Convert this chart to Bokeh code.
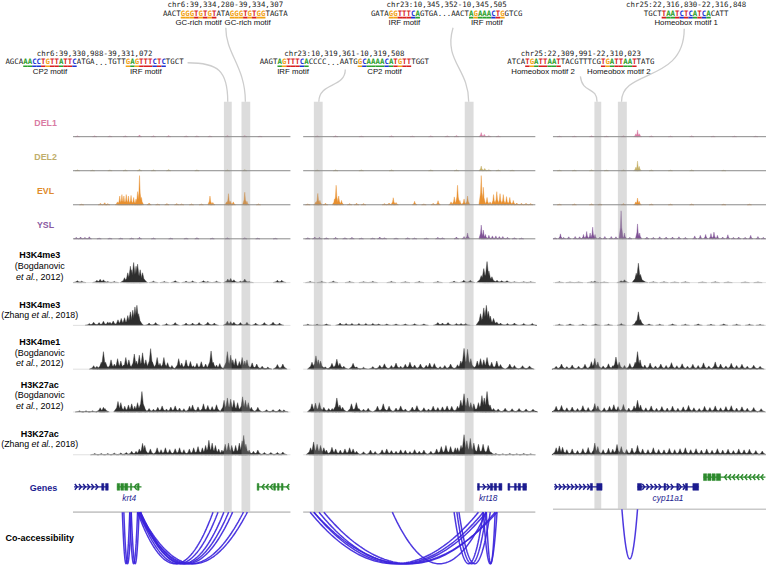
import numpy as np
from bokeh.plotting import figure
from bokeh.models import Range1d
from bokeh.embed import file_html
from bokeh.resources import INLINE
from bokeh.core.properties import value

# ======================= DATA =======================
PANEL_NAMES = ["chr6 krt4 locus", "chr23 krt18 locus", "chr25 cyp11a1 locus"]

TRACK_NAMES = ["DEL1", "DEL2", "EVL", "YSL"]
HIST_TITLES = ["H3K4me3", "H3K4me3", "H3K4me1", "H3K27ac", "H3K27ac"]
HIST_AUTHORS = ["Bogdanovic", "Zhang", "Bogdanovic", "Bogdanovic", "Zhang"]
HIST_YEARS = ["2012", "2018", "2012", "2012", "2018"]

# signal peaks (position % of window, signal 0-10) per track, per panel
DEL1_P1 = [(2,0.3),(10,0.3),(17,0.3),(24,0.3),(30.6,0.6),(37,0.3),(44,0.4),(52,0.3),(57,0.3),(63,0.3),(71,0.4),(79,0.4),(86,0.2)]
DEL1_P2 = [(6,0.3),(14,0.3),(25,0.2),(38,0.3),(47,0.2),(55,0.3),(62,0.3),(66,0.4),(76.7,1.4),(78,0.8),(80,0.4),(84,0.3)]
DEL1_P3 = [(3,0.2),(10,0.2),(18,0.3),(25,0.2),(33,0.3),(38.8,1),(39.6,2.3),(40.5,1),(46,0.3),(55,0.2),(65,0.3),(75,0.2),(85,0.2),(95,0.2)]
DEL2_P1 = [(2,0.3),(9,0.2),(17,0.3),(24,0.3),(30.6,0.5),(37,0.3),(44,0.4),(57,0.3),(71,0.3),(79,0.4)]
DEL2_P2 = [(6,0.3),(14,0.3),(25,0.3),(38,0.3),(55,0.3),(66,0.3),(76.7,1.6),(78.2,0.8),(80,0.4),(84,0.3),(90,0.2)]
DEL2_P3 = [(3,0.2),(10,0.2),(18,0.3),(25,0.2),(33,0.3),(38.8,1.2),(39.6,3.3),(40.4,1.5),(46,0.3),(55,0.2),(65,0.3),(80,0.2)]
EVL_P1 = [(4,0.2),(12.6,0.5),(14.6,0.7),(16,0.4),(20.4,1),(21.5,3),(22.5,3.5),(23.4,3),(24.5,3.5),(25.5,3),(26.7,3.2),(27.9,2.5),(29,2),(29.7,4.5),(30.6,10),(31.5,2.5),(35,0.6),(39,0.3),(43.2,0.4),(47.7,0.4),(50,0.3),(54.5,0.3),(59,0.3),(63,3),(64.3,0.8),(70.6,1),(71.5,3.8),(72.5,1.2),(73.7,1),(79,4.3),(80,1.2),(85.3,0.3)]
EVL_P2 = [(2,0.3),(5.5,1),(6.3,3.9),(7.2,1.5),(9.6,0.5),(13.5,2),(14.2,6.7),(15.3,3),(16.5,1.5),(20,0.4),(23,0.5),(26,0.4),(35,0.4),(37,0.6),(38.8,2.4),(40,0.8),(48,1.2),(52,0.3),(56,0.5),(58.1,1.4),(63.7,1),(65.1,2.7),(66.5,6.7),(67.5,1.5),(69.3,2),(70.8,3),(76.7,10),(77.6,6),(79.2,2.5),(80.5,1),(82,3.5),(83.4,4.5),(84.8,3.8),(86.2,3.5),(87.6,2.8),(89,2.5),(90.5,1.5),(92,0.6),(94,0.5),(96,0.5),(98,0.4)]
EVL_P3 = [(3,0.2),(10,0.3),(18,0.3),(22,0.3),(33,0.4),(38.8,1),(39.6,2.3),(40.4,1.2),(46,0.3),(55,0.2),(65,0.3),(80,0.2),(92,0.2)]
YSL_P1 = [(1.5,0.5),(3.5,0.6),(5.5,0.5),(7.5,0.7),(12,0.3),(17,0.3),(22,0.3),(27,0.3),(30.6,0.5),(37,0.3),(45,0.3),(52,0.3),(57,0.4),(64,0.3),(71,0.4),(79,0.4),(85,0.3),(93,0.2)]
YSL_P2 = [(2,0.4),(5,0.6),(7,0.5),(10,0.4),(14,0.5),(18,0.4),(21,0.5),(25,0.3),(30,0.3),(33,0.6),(35,0.4),(40,0.3),(45,0.4),(48,0.3),(53,0.3),(58,0.5),(60,0.4),(66,0.6),(69.3,0.8),(70.8,2),(76.7,4.7),(77.6,3),(78.5,1.5),(80,1.2),(81.5,1),(83,1),(84.5,0.8),(86,0.8),(88,0.5),(91,0.4),(94,0.3)]
YSL_P3 = [(1,0.4),(3.5,1.7),(5,0.5),(7.4,0.7),(10.4,0.8),(12.5,0.7),(14.3,1.5),(15.8,2.5),(17.4,2),(18.6,4),(19.7,1.5),(22,0.6),(24.3,0.8),(27.3,0.8),(29.5,0.7),(31.9,9.6),(33.5,2),(36,0.5),(39.6,5.1),(40.6,2),(44,0.6),(47,0.5),(50,0.7),(53,0.6),(56,0.6),(59,0.7),(62,0.5),(66.4,1),(69,1.2),(71.5,1.5),(74,1.8),(75.4,2.3),(77,1.2),(79.5,0.6),(81.9,1.4),(84.5,0.5),(87,0.6),(90,0.5),(92.6,1.2),(96,0.8),(98.5,0.5)]

K4ME3B_P1 = [(2,0.8),(4,0.6),(11,1),(12.5,1.4),(14,1.2),(16,0.5),(19,0.5),(23.7,2.1),(25.2,4.2),(26.4,7),(27,5.5),(27.9,8.6),(29,7),(29.7,7.9),(30.9,5.5),(32,4.2),(32.4,1.4),(37,0.6),(42,0.5),(47,0.8),(52,0.6),(55,0.7),(60,0.8),(62,0.5),(66,0.6),(71.2,1.5),(72.5,1.8),(74,1.2),(77,0.6),(79,1.5),(81,0.5),(94,1),(96,1)]
K4ME3B_P2 = [(3,0.5),(8,0.5),(13,0.6),(20,0.5),(26,0.4),(30,0.5),(38,0.5),(44,0.4),(50,0.5),(58,0.5),(65,0.6),(69.2,1),(72,1),(76.7,3),(77.8,6),(79.2,9),(80,5),(81.3,2.5),(83.5,1),(85.5,0.8),(87.8,0.8),(91,0.4),(95,0.4),(98,0.4)]
K4ME3B_P3 = [(3,0.4),(8,0.3),(12,0.3),(18,0.4),(19.6,0.6),(24,0.3),(31.9,0.8),(33.5,1.2),(39,4),(40,8.3),(41,3.5),(42.5,0.8),(47,0.4),(52,0.4),(57,0.3),(62,0.4),(70,0.3),(76,0.4),(82,0.3),(90,0.3),(96,0.3)]
K4ME3Z_P1 = [(7.5,0.8),(9.5,1.4),(12,1.2),(14,1.8),(16,1.5),(17,1.4),(18.5,1.9),(20.7,2.4),(22.2,3),(23.7,3.3),(25.2,4.2),(26.4,5.8),(27.5,6.5),(28.5,7.9),(29.4,8.6),(30.2,5),(31,1),(35,1),(38,1.2),(43,0.8),(47,1.2),(52,1),(55,1),(58,1.2),(62,1.4),(65,1),(71,1.8),(72.5,1.6),(74,1.4),(77,1.2),(80,1.3),(84,1),(88,1.2),(92,1.4),(95,1)]
K4ME3Z_P2 = [(2,0.5),(6,0.5),(10,0.6),(15.9,1),(18.5,0.8),(21,0.8),(24,0.8),(27,0.8),(30,0.8),(32.5,0.6),(36,0.6),(40,0.6),(44,0.6),(48,0.7),(52,0.6),(58,1.2),(60,1),(62.4,1.2),(66,0.8),(68,0.8),(70,0.8),(76.4,5),(77.8,7.5),(78.9,8.6),(79.8,6),(80.6,4),(82,3),(83.4,1.5),(85,1),(88,0.8),(91,1),(95,0.8),(98.7,0.8)]
K4ME3Z_P3 = [(3,0.5),(8,0.6),(14,0.5),(20,0.6),(26,0.5),(32,0.8),(39,2),(40,5.8),(41,2.5),(45,0.6),(50,0.5),(56,0.6),(62,0.5),(68,0.6),(74,0.5),(80,0.6),(86,0.5),(92,0.5),(97,0.4)]
K4ME1_P1 = [(9.5,1.5),(11,1.2),(13,3),(14,7.5),(15,3),(17.5,4),(19,2.2),(20.5,4.5),(22,3.5),(23.2,1.8),(24.3,5),(25.7,4),(28.2,6.5),(29.2,3.5),(30.5,6),(32,7),(33.5,4),(35.7,8.8),(36.5,3),(38.7,5),(40,2.5),(41.8,5),(43.5,2.8),(45.5,1.6),(48.6,4.5),(50,2.6),(52,4),(54,3.3),(55.4,1.5),(57,2.5),(59,3.2),(61,2.2),(63.5,7.8),(64.5,3),(66,1.8),(67.5,2.4),(71,7.5),(72.5,6),(73.5,4),(74.8,4.5),(76.5,3.3),(77.8,5),(79,3.5),(80,4),(82.4,2.7),(84.5,2.2),(87,1.3),(89.6,0.9),(94,2),(96.5,2.2)]
K4ME1_P2 = [(3.8,3),(5.5,5.7),(6.5,4),(7.5,3.5),(9.5,1),(12.4,2.5),(14.5,4.3),(15.8,2.5),(17.5,1.3),(21.5,2.5),(23,1),(26,0.8),(30,1.1),(33,1.7),(35,2.3),(38,1.6),(40,2.6),(42,1.3),(44,2.1),(46,3),(48,1.8),(50.5,2.2),(53,1.7),(54.5,2.6),(56.5,2.4),(59,1.1),(61,1.6),(63.5,2.2),(66.5,1.9),(67.9,3.5),(69.3,8.9),(70.8,8.5),(72.2,4.5),(75,3.5),(76.4,4.5),(77.8,4),(79.2,5),(81.2,3),(83.4,3.5),(85,2),(89,2.2),(91,1.6),(94.5,1.5),(97.5,1.4)]
K4ME1_P3 = [(1.5,1.2),(4,2.2),(6.5,1.1),(9,1.8),(12,1.3),(15,2.1),(18,3.2),(19.6,4.6),(21,3.1),(23.5,1.4),(26,2.3),(28,1.5),(29.5,5.2),(31,3),(33.5,1.6),(36,2.4),(38.5,3),(39.6,7.5),(40.8,4),(43,1.8),(45.5,2.6),(48,1.4),(50.5,2.2),(53,1.6),(55.5,2.8),(58,1.5),(60.5,2.3),(63,1.3),(65.5,2.1),(68,1.6),(70.5,2.7),(73,1.4),(76,3.1),(78.5,2.2),(81,1.4),(83.5,2.5),(86,1.6),(88.5,2.1),(91,1.3),(94,1.7),(97,1.2)]
K27ACB_P1 = [(3,0.5),(6,0.5),(9,0.5),(12.5,1.8),(14,2),(14.7,1.5),(20.7,4.5),(22,4),(23.8,2.5),(25.5,3),(27,3.5),(28.4,2.5),(29.7,4),(31.7,8.75),(32.5,2.5),(35,1.5),(37,1.2),(39,2),(41,2.6),(43,1.3),(45,2.1),(47,2.6),(49,1.7),(51,1.4),(53.6,2.5),(55,3),(57.5,2.2),(60,3.5),(62,2.8),(64,2.3),(66,3.1),(69.5,5),(71,6),(72.5,5.5),(74,5),(75.7,4),(78,6.5),(79.3,5),(80.6,4),(82,2),(85,2),(89,1),(92,1),(95,1.2),(97,0.9)]
K27ACB_P2 = [(3.8,3.5),(5.3,3.8),(7,4),(8.9,2),(11,1.5),(12.5,1.5),(14.5,6),(15.8,3),(17,2),(20.8,3.5),(22.9,4),(24,1.5),(26,1.2),(28,1.6),(32,2.5),(34.5,3.5),(37,2.5),(40,1.7),(42,2.6),(44,1.3),(47,2.1),(49,2.7),(52,1.8),(54,1.3),(56,2.5),(58,1.9),(60,2.2),(62,2.6),(64,2.4),(66.5,2.5),(67.9,5),(69.3,7.8),(70.8,6),(72.2,4),(73.5,3.5),(75.5,4),(77,7),(78,6),(79.2,8.75),(80.5,3),(82,1.5),(84,1.3),(87,1.6),(90,1.4),(93,1.5),(96,1.3),(99,1.2)]
K27ACB_P3 = [(1.5,2.4),(4,2.8),(6.5,1.8),(9,2.1),(11.5,1.5),(14,2.7),(16.5,1.9),(19.6,3.6),(21,2.6),(24,1.8),(26.5,2.4),(28.5,3.1),(30.5,2.3),(33,3.2),(35.5,1.7),(38,2.6),(39.6,5),(41,3),(43.5,1.8),(46,2.6),(48.5,1.6),(51,2.3),(53.5,1.7),(56,2.5),(58.5,1.6),(61,2.2),(63.5,2.8),(66,1.8),(68.5,1.5),(71,2.4),(73.5,1.9),(76,2.6),(78.5,1.8),(81,2.3),(83.5,2.7),(86,1.7),(88.5,2.2),(91,1.6),(94,1.9),(97.5,1.4)]
K27ACZ_P1 = [(10,0.5),(13,0.5),(16,0.5),(19,0.7),(22,0.8),(24.5,1),(27,1.5),(29,1.5),(30.5,2.5),(32,4.9),(33,4),(35.6,2.5),(38.7,3),(40.5,2.2),(42.5,3),(44.5,2.3),(47,2.6),(49,3),(51,2.2),(53.5,2.5),(55.5,3),(57.5,3.5),(59.5,3),(61,4),(62.5,6.2),(64,5),(65.5,4),(67,2.5),(68.5,2),(70,4.5),(71.5,5),(73,4),(74.8,4),(76.5,5),(77.8,6),(78.5,8.3),(79.5,4.5),(81,2),(83,1.5),(85,2),(88,1),(91,1),(94,1),(96.5,1.2)]
K27ACZ_P2 = [(3.2,3),(4.5,5.5),(6,4.5),(7.5,4),(8.9,3),(10,2),(12.4,3.2),(14,2.5),(16,2),(18,2.5),(20,3),(21.5,2.5),(23,1.5),(26,1.3),(29,2),(31,1.4),(34,2.1),(36,2.5),(38,1.8),(40,1.5),(42,2.1),(44,1.9),(46,1.4),(48,2.2),(50,1.5),(52,2),(55,1.5),(57.5,2.5),(59.5,3.5),(61.5,4),(63.5,3.5),(65.5,3),(66.5,3),(68,4),(69.3,8.6),(70.5,6),(72,7),(73.5,5),(75.5,4.5),(77.5,4.5),(79.7,4),(81,1),(83,0.5),(86,0.4),(89,0.5),(92,0.4),(95,0.5),(98,0.4)]
K27ACZ_P3 = [(1.5,3),(3,3.8),(4.5,3.2),(6.5,2.2),(9,2.5),(11.5,1.8),(14,2.6),(16.5,3.1),(19.6,5),(21,3.5),(23.5,2.2),(26,2.8),(28,2.4),(30,4.4),(32,3.5),(34.5,2.3),(37,2.9),(39.6,4),(42,2.5),(44.5,2.2),(47,3),(49.5,2.3),(52,2.1),(54.5,2.7),(57,2.2),(59.5,2.6),(62,3),(64.5,2.2),(67,2.6),(69.5,2),(72,2.5),(74.5,1.9),(77,2.6),(79.5,2),(82,2.4),(84.5,1.8),(87,2.5),(89.5,2.1),(92,2.4),(95,1.8),(98,1.6)]

SIGNALS = [
    [DEL1_P1, DEL1_P2, DEL1_P3], [DEL2_P1, DEL2_P2, DEL2_P3],
    [EVL_P1, EVL_P2, EVL_P3], [YSL_P1, YSL_P2, YSL_P3],
    [K4ME3B_P1, K4ME3B_P2, K4ME3B_P3], [K4ME3Z_P1, K4ME3Z_P2, K4ME3Z_P3],
    [K4ME1_P1, K4ME1_P2, K4ME1_P3], [K27ACB_P1, K27ACB_P2, K27ACB_P3],
    [K27ACZ_P1, K27ACZ_P2, K27ACZ_P3],
]

HIGHLIGHTS = [[(69.4, 73.0), (77.5, 81.5)], [(4.6, 8.4), (69.6, 73.4)], [(19.4, 22.6), (30.4, 34.6)]]

GENES = [
    (0, 0.5, 16.2, "+", 0, ""), (0, 20.3, 31.5, "-", 0, "krt4"), (0, 84.7, 99.5, "-", 0, ""),
    (1, 75.1, 85.6, "+", 0, "krt18"), (1, 88.2, 96.2, "+", 0, ""),
    (2, 0.5, 23.0, "+", 0, ""), (2, 39.6, 68.2, "+", 0, "cyp11a1"), (2, 70.5, 99.5, "-", 1, ""),
]
EXONS = [
    [(13.2, 14.2), (15.0, 16.2)],
    [(20.3, 21.5), (22.0, 23.3), (23.8, 25.2), (26.4, 27.0), (29.6, 30.4)],
    [(84.7, 85.5), (92.3, 93.1), (94.0, 94.8), (95.8, 96.6)],
    [(75.1, 75.9), (80.6, 81.6), (82.3, 83.3), (84.3, 85.6)],
    [(88.2, 89.0), (91.0, 91.8), (92.6, 93.6), (94.6, 96.2)],
    [(17.5, 18.5), (20.5, 23.0)],
    [(39.6, 41.5), (52.0, 52.8), (58.0, 58.8), (62.0, 63.0), (65.5, 68.2)],
    [(70.5, 72.0), (72.5, 74.0), (74.5, 76.0), (76.5, 78.5)],
]

# co-accessibility links: start %, end %, link depth
ARCS_P1 = [(22.7,26.1,53),(23.4,26.8,53),(26.1,29.7,53),(26.8,30.4,53),(29.7,64.4,53),(30.4,66.7,53),(31.1,69.4,53),(30.6,71.6,53),(31.1,73.4,53),(29.7,78.4,53),(30.6,80.2,53)]
ARCS_P2 = [(3.0,75.5,53),(4.6,77.6,53),(6.8,78.9,53),(8.9,82.7,53),(4.6,83.5,53),(38.4,78.9,53),(65.0,77.6,53),(66.2,78.9,53),(67.1,80.6,53),(77.6,83.5,53),(78.9,82.7,53)]
ARCS_P3 = [(32.3,39.6,51)]
ARCS = [ARCS_P1, ARCS_P2, ARCS_P3]

CHR_LABELS = ["chr6:39,330,988-39,331,072", "chr6:39,334,280-39,334,307",
              "chr23:10,345,352-10,345,505", "chr23:10,319,361-10,319,508",
              "chr25:22,309,991-22,310,023", "chr25:22,316,830-22,316,848"]
SEQS = [
    [("AGCA",0),("AACCTGTTATTC",1),("ATGA...TGTT",0),("GAGTTTCTC",1),("TGCT",0)],
    [("AACT",0),("GGGTGTGT",1),("ATA",0),("GGGTGTGG",1),("TAGTA",0)],
    [("GATA",0),("GGTTTCA",1),("GTGA...AACT",0),("AGAAACTG",1),("GTCG",0)],
    [("AAGT",0),("AGTTTCA",1),("CCCC...AATG",0),("GCAAAACATGTT",1),("TGGT",0)],
    [("ATCA",0),("TGATTAAT",1),("TACGTTTCG",0),("TGATTAAT",1),("TATG",0)],
    [("TGCT",0),("TAATCTCATCA",1),("CATT",0)],
]
MOTIF_NAMES = [["CP2 motif","IRF motif"], ["GC-rich motif","GC-rich motif"], ["IRF motif","IRF motif"],
               ["IRF motif","CP2 motif"], ["Homeobox motif 2","Homeobox motif 2"], ["Homeobox motif 1"]]

# ======================= LAYOUT / STYLE =======================
W, H = 766, 571
XR, YR = 782, 587
S = W / XR
PANEL_PX = [(74, 296), (309, 546), (564, 782)]
TRACK_BASE = [140, 175, 210, 245, 290, 334, 379, 423, 467]
TRACK_PX10 = [30, 30, 30, 30, 24, 24, 24, 24, 24]
TRACK_COL = ["#d97ba3", "#c4b067", "#e8902f", "#7f5195"] + ["#2e2e2e"] * 5
LABEL_COL = ["#d97ba3", "#bfae6a", "#e08a2c", "#8a5aa2"]
GENE_Y = [500, 490]
ARC_BASE = [526, 526, 523]
BLUE, GREEN = "#1b1b8f", "#2d8a2d"
ANN_POS = [(96, 54), (229.5, 4), (455.5, 4), (351, 54), (592.5, 54), (700, 4)]
CONNECT = [((191, 64), (222, 64), (232, 72), (232, 104)),
           ((230, 28), (230, 55), (250, 68), (250, 104)),
           ((462, 28), (452, 62), (478, 70), (478, 104)),
           ((352, 71), (352, 90), (325, 84), (325, 104)),
           ((592, 78), (594, 96), (609, 88), (609, 104)),
           ((698, 29), (698, 85), (634, 70), (634, 104))]
NUC = {"A": "#2ca02c", "C": "#1c35d4", "G": "#f2a215", "T": "#d81e1e"}
CW = 4.55
SANS = value("Liberation Sans")
MONO = value("DejaVu Sans Mono")

def fs(px):
    return f"{px * S:.2f}px"

p = figure(width=W, height=H, x_range=Range1d(0, XR), y_range=Range1d(YR, 0),
           output_backend="svg", toolbar_location=None, min_border=0)
p.axis.visible = False
p.grid.visible = False
p.outline_line_color = None

p.extra_x_ranges = {}
for i, (x0, x1) in enumerate(PANEL_PX):
    sc = (x1 - x0) / 100.0
    p.extra_x_ranges[f"x{i}"] = Range1d(-x0 / sc, (XR - x0) / sc)
p.extra_y_ranges = {}
for j, b in enumerate(TRACK_BASE):
    k = TRACK_PX10[j] / 10.0
    p.extra_y_ranges[f"y{j}"] = Range1d((b - YR) / k, b / k)

# ---- signal tracks ----
for j, track in enumerate(SIGNALS):
    w = 1.0 if j < 4 else 2.0
    for i in range(3):
        pk = track[i]
        xs = [[x - w, x - 0.3 * w, x, x + 0.3 * w, x + w] for x, v in pk]
        ys = [[0, 0.4 * v, v, 0.4 * v, 0] for x, v in pk]
        p.patches(xs, ys, fill_color=TRACK_COL[j], line_color=TRACK_COL[j], line_width=0.4,
                  x_range_name=f"x{i}", y_range_name=f"y{j}")
        p.segment(x0=[0], x1=[100], y0=[0], y1=[0], line_color="#8a8a8a" if j < 4 else "#d8d8d8",
                  line_width=1 if j < 4 else 0.8, x_range_name=f"x{i}", y_range_name=f"y{j}")

# ---- highlighted columns ----
for i, regs in enumerate(HIGHLIGHTS):
    p.quad(left=[a for a, b in regs], right=[b for a, b in regs], top=[104] * len(regs),
           bottom=[ARC_BASE[i]] * len(regs), fill_color="#969696", fill_alpha=0.33,
           line_color=None, x_range_name=f"x{i}")

# ---- genes ----
for g, (pi, s0, s1, strand, row, name) in enumerate(GENES):
    col = BLUE if strand == "+" else GREEN
    y = GENE_Y[row]
    p.segment(x0=[s0], x1=[s1], y0=[y], y1=[y], line_color=col, line_width=1.3, x_range_name=f"x{pi}")
    ex = EXONS[g]
    p.quad(left=[a for a, b in ex], right=[b for a, b in ex], top=[y - 3.5] * len(ex),
           bottom=[y + 3.5] * len(ex), fill_color=col, line_color=col, line_width=0.5,
           x_range_name=f"x{pi}")
    cx, cys = [], []
    c = s0 + 0.9
    d = 0.55 if strand == "+" else -0.55
    while c < s1 - 0.5:
        if not any(a - 0.6 <= c <= b + 0.6 for a, b in ex):
            cx.append([c - d, c + d, c - d])
            cys.append([y - 3, y, y + 3])
        c += 1.9
    if cx:
        p.multi_line(cx, cys, line_color=col, line_width=1.5, x_range_name=f"x{pi}")
    if name:
        p.text(x=[(s0 + s1) / 2 if name != "krt18" else s0 + 4.6], y=[y + 11], text=[name],
               text_font=SANS, text_font_size=fs(8.5), text_font_style="italic", text_color=BLUE,
               text_align="center", text_baseline="middle", x_range_name=f"x{pi}")

# ---- co-accessibility arcs ----
t = np.linspace(-1, 1, 80)
for i, arcs in enumerate(ARCS):
    xs, ys = [], []
    for s0, s1, dep in arcs:
        xs.append(list((s0 + s1) / 2 + (s1 - s0) / 2 * t))
        ys.append(list(ARC_BASE[i] + dep * (1 - t ** 2)))
    p.segment(x0=[0], x1=[100], y0=[ARC_BASE[i]], y1=[ARC_BASE[i]], line_color="#c9c9c9",
              line_width=1.6, x_range_name=f"x{i}")
    p.multi_line(xs, ys, line_color="#3a22dc", line_alpha=0.9, line_width=1.5, x_range_name=f"x{i}")

# ---- connectors ----
p.bezier(x0=[c[0][0] for c in CONNECT], y0=[c[0][1] for c in CONNECT],
         cx0=[c[1][0] for c in CONNECT], cy0=[c[1][1] for c in CONNECT],
         cx1=[c[2][0] for c in CONNECT], cy1=[c[2][1] for c in CONNECT],
         x1=[c[3][0] for c in CONNECT], y1=[c[3][1] for c in CONNECT],
         line_color="#cdcdcd", line_width=1.3)

# ---- motif annotations ----
for a, (cx, ytop) in enumerate(ANN_POS):
    p.text(x=[cx], y=[ytop], text=[CHR_LABELS[a]], text_font=MONO, text_font_size=fs(7.55),
           text_color="#222222", text_align="center", text_baseline="middle")
    parts = SEQS[a]
    n = sum(len(s) for s, m in parts)
    x0 = cx - n * CW / 2
    ys = ytop + 9
    pos = 0
    mx, mt, mc, nx, nt = [], [], [], [], []
    centers = []
    for s, m in parts:
        for k, ch in enumerate(s):
            xc = x0 + (pos + k + 0.5) * CW
            if m:
                mx.append(xc); mt.append(ch); mc.append(NUC[ch])
            else:
                nx.append(xc); nt.append(ch)
        if m:
            centers.append(x0 + (pos + len(s) / 2) * CW)
        pos += len(s)
    p.text(x=nx, y=[ys] * len(nx), text=nt, text_font=MONO, text_font_size=fs(7.55),
           text_color="#222222", text_align="center", text_baseline="middle")
    p.text(x=mx, y=[ys] * len(mx), text=mt, text_font=MONO, text_font_size=fs(7.55),
           text_font_style="bold", text_color=mc, text_align="center", text_baseline="middle")
    p.segment(x0=[x - CW / 2 for x in mx], x1=[x + CW / 2 for x in mx], y0=[ys + 4.6] * len(mx),
              y1=[ys + 4.6] * len(mx), line_color=mc, line_width=1.6)
    for mname, mcx in zip(MOTIF_NAMES[a], centers):
        p.text(x=[mcx], y=[ytop + 19], text=[mname], text_font=SANS, text_font_size=fs(8),
               text_color="#111111", text_align="center", text_baseline="middle")

# ---- left labels ----
for j, nm in enumerate(TRACK_NAMES):
    p.text(x=[46], y=[TRACK_BASE[j] - 14], text=[nm], text_font=SANS, text_font_size=fs(9),
           text_font_style="bold", text_color=LABEL_COL[j], text_align="center", text_baseline="middle")

AW = {' ': 278, '(': 333, ')': 333, ',': 278, '.': 278, '0': 556, '1': 556, '2': 556, '8': 556,
      'B': 667, 'Z': 611, 'a': 556, 'c': 500, 'd': 556, 'e': 556, 'g': 556, 'h': 556, 'i': 222,
      'l': 222, 'n': 556, 'o': 556, 't': 278, 'v': 500}

def rich_line(cx, y, pieces, size):
    widths = [sum(AW.get(ch, 556) for ch in s) * size / 1000 for s, st in pieces]
    x = cx - sum(widths) / 2
    for (s, st), wd in zip(pieces, widths):
        p.text(x=[x], y=[y], text=[s], text_font=SANS, text_font_size=fs(size), text_font_style=st,
               text_color="black", text_align="left", text_baseline="middle")
        x += wd

LCX = 40
for h, (title, auth, yr) in enumerate(zip(HIST_TITLES, HIST_AUTHORS, HIST_YEARS)):
    b = TRACK_BASE[4 + h]
    if auth == "Bogdanovic":
        p.text(x=[LCX], y=[b - 28], text=[title], text_font=SANS, text_font_size=fs(9.2),
               text_font_style="bold", text_color="black", text_align="center", text_baseline="middle")
        rich_line(LCX, b - 17, [("(" + auth, "normal")], 9.2)
        rich_line(LCX, b - 6, [("et al.", "italic"), (", " + yr + ")", "normal")], 9.2)
    else:
        p.text(x=[LCX], y=[b - 21], text=[title], text_font=SANS, text_font_size=fs(9.2),
               text_font_style="bold", text_color="black", text_align="center", text_baseline="middle")
        rich_line(LCX, b - 11, [("(" + auth + " ", "normal"), ("et al.", "italic"), (", " + yr + ")", "normal")], 9.0)

p.text(x=[44], y=[501], text=["Genes"], text_font=SANS, text_font_size=fs(9.2), text_font_style="bold",
       text_color=BLUE, text_align="center", text_baseline="middle")
p.text(x=[40], y=[553], text=["Co-accessibility"], text_font=SANS, text_font_size=fs(9.2),
       text_font_style="bold", text_color="black", text_align="center", text_baseline="middle")

open("out.html", "w").write(file_html(p, INLINE))
